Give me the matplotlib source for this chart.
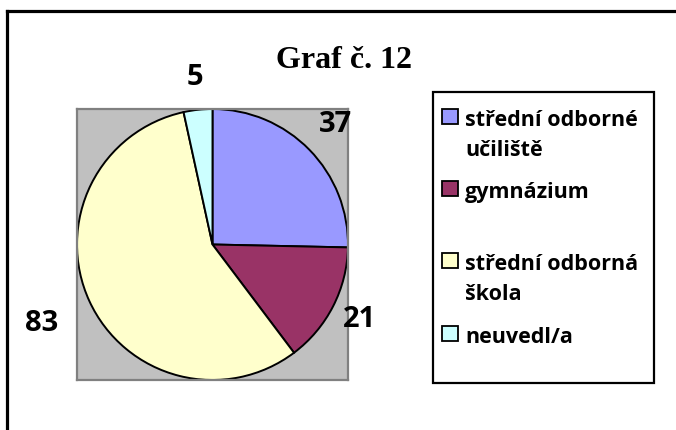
import matplotlib.pyplot as plt
from matplotlib.patches import Rectangle
from matplotlib.lines import Line2D
import numpy as np

categories = ['střední odborné\nučiliště', 'gymnázium', 'střední odborná\nškola', 'neuvedl/a']
values = [37, 21, 83, 5]
colors = ['#9999FF', '#993366', '#FFFFCC', '#CCFFFF']
label_dist = [1.27, 1.22, 1.39, 1.24]

W, H = 676, 430
fig = plt.figure(figsize=(W / 100, H / 100), dpi=100)
FONT = 'Open Sans'


def fx(px):
    return px / W


def fy(py):
    return 1 - py / H


# outer chart border (only top and left visible)
fig.add_artist(Line2D([fx(6.5), 1.0], [fy(10.5), fy(10.5)], color='black', lw=2.3))
fig.add_artist(Line2D([fx(6.5), fx(6.5)], [fy(10.5), 0.0], color='black', lw=2.3))

# plot area
ax = fig.add_axes([fx(77), fy(380), fx(348) - fx(77), fy(109) - fy(380)])
ax.set_facecolor('#C0C0C0')
for s in ax.spines.values():
    s.set_color('#808080')
    s.set_linewidth(1.6)

wedges, _ = ax.pie(values, colors=colors, startangle=90, counterclock=False,
                   radius=1.0, wedgeprops=dict(edgecolor='black', linewidth=1.4))
ax.set_xlim(-1.0, 1.0)
ax.set_ylim(-1.0, 1.0)
ax.set_xticks([])
ax.set_yticks([])
ax.set_frame_on(True)

for w, v, d in zip(wedges, values, label_dist):
    ang = np.deg2rad((w.theta1 + w.theta2) / 2)
    ax.text(d * np.cos(ang), d * np.sin(ang), str(v), ha='center', va='center',
            fontsize=21, fontweight='bold', family=FONT)

fig.text(fx(344), fy(60), 'Graf č. 12', ha='center', va='center',
         fontsize=23, fontweight='bold', family='Liberation Serif')

# legend
fig.add_artist(Rectangle((fx(433), fy(383)), fx(654) - fx(433), fy(92) - fy(383),
                         transform=fig.transFigure, fill=False, edgecolor='black', lw=1.6))
entry_y = [116, 188, 260, 333]
line_step = 30
for lab, c, yy in zip(categories, colors, entry_y):
    fig.add_artist(Rectangle((fx(442), fy(yy + 7.5)), fx(458) - fx(442), fy(yy - 7.5) - fy(yy + 7.5),
                             transform=fig.transFigure, facecolor=c, edgecolor='black', lw=1.3))
    for k, part in enumerate(lab.split('\n')):
        fig.text(fx(465), fy(yy + 10 + k * line_step), part, ha='left', va='baseline',
                 fontsize=15.5, fontweight='bold', family=FONT)

fig.savefig('out.png', dpi=100)
